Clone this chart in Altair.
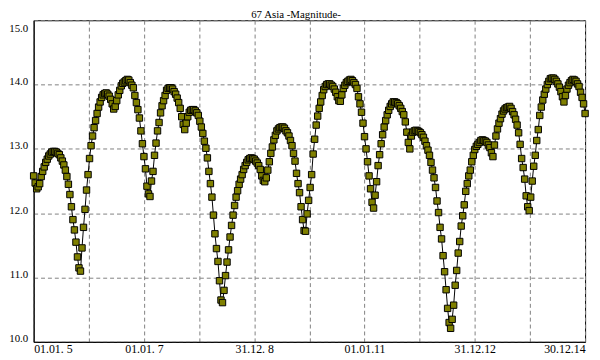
import altair as alt
import pandas as pd

title_text = "67 Asia -Magnitude-"
tick_labels = ["01.01. 5", "01.01. 7", "31.12. 8", "01.01.11", "31.12.12", "30.12.14"]
y_ticks = [10, 11, 12, 13, 14, 15]
day_step = 10          # sampling interval of the light curve (days)
year_days = 365        # vertical grid spacing
label_every = 730      # labelled grid line spacing

magnitudes = [
    12.58, 12.47, 12.38, 12.41, 12.46, 12.57, 12.65, 12.72, 12.79, 12.84,
    12.89, 12.92, 12.95, 12.96, 12.96, 12.95, 12.93, 12.91, 12.86, 12.81,
    12.75, 12.67, 12.57, 12.45, 12.29, 12.10, 11.90, 11.74, 11.55, 11.32,
    11.15, 11.10, 11.46, 11.78, 12.06, 12.36, 12.60, 12.85, 13.05, 13.20,
    13.33, 13.44, 13.55, 13.65, 13.73, 13.80, 13.84, 13.86, 13.87, 13.85,
    13.82, 13.77, 13.70, 13.62, 13.66, 13.75, 13.84, 13.91, 13.98, 14.02,
    14.04, 14.06, 14.08, 14.07, 14.03, 13.99, 13.95, 13.83, 13.72, 13.61,
    13.48, 13.28, 13.08, 12.88, 12.69, 12.42, 12.30, 12.26, 12.50, 12.65,
    12.90, 13.09, 13.28, 13.41, 13.56, 13.67, 13.75, 13.83, 13.91, 13.94,
    13.95, 13.95, 13.93, 13.89, 13.85, 13.79, 13.72, 13.63, 13.50, 13.38,
    13.30, 13.40, 13.50, 13.57, 13.60, 13.61, 13.61, 13.59, 13.56, 13.52,
    13.43, 13.34, 13.24, 13.12, 13.01, 12.86, 12.65, 12.46, 12.25, 11.97,
    11.68, 11.45, 11.25, 10.95, 10.65, 10.61, 10.80, 11.03, 11.24, 11.43,
    11.63, 11.81, 11.97, 12.12, 12.25, 12.35, 12.45, 12.53, 12.60, 12.68,
    12.74, 12.79, 12.83, 12.85, 12.86, 12.85, 12.84, 12.81, 12.78, 12.74,
    12.68, 12.58, 12.51, 12.49, 12.55, 12.67, 12.80, 12.93, 13.03, 13.14,
    13.21, 13.28, 13.31, 13.33, 13.34, 13.34, 13.32, 13.28, 13.25, 13.20,
    13.13, 13.05, 12.93, 12.81, 12.62, 12.46, 12.32, 12.10, 11.90, 11.73,
    11.72, 11.99, 12.20, 12.40, 12.60, 12.92, 13.15, 13.37, 13.51, 13.63,
    13.73, 13.83, 13.92, 13.97, 14.00, 14.01, 14.01, 13.99, 13.97, 13.93,
    13.88, 13.81, 13.75, 13.74, 13.84, 13.94, 13.99, 14.03, 14.05, 14.07,
    14.08, 14.06, 14.03, 14.00, 13.94, 13.81, 13.70, 13.57, 13.40, 13.19,
    13.00, 12.80, 12.58, 12.38, 12.17, 12.08, 12.28, 12.49, 12.74, 12.91,
    13.08, 13.22, 13.34, 13.44, 13.53, 13.60, 13.66, 13.70, 13.73, 13.73,
    13.72, 13.70, 13.67, 13.63, 13.58, 13.53, 13.42, 13.26, 13.10, 13.00,
    13.20, 13.26, 13.28, 13.29, 13.28, 13.27, 13.25, 13.22, 13.18, 13.12,
    13.05, 12.98, 12.90, 12.79, 12.67, 12.55, 12.40, 12.19, 12.01, 11.78,
    11.60, 11.34, 11.09, 10.81, 10.52, 10.30, 10.21, 10.35, 10.57, 10.88,
    11.11, 11.38, 11.56, 11.80, 11.96, 12.13, 12.34, 12.46, 12.58, 12.67,
    12.80, 12.90, 12.99, 13.04, 13.07, 13.10, 13.13, 13.14, 13.13, 13.12,
    13.10, 13.06, 13.02, 12.94, 12.88, 13.06, 13.20, 13.31, 13.40, 13.47,
    13.54, 13.59, 13.62, 13.64, 13.65, 13.66, 13.63, 13.58, 13.53, 13.46,
    13.37, 13.25, 13.07, 12.85, 12.71, 12.53, 12.27, 12.10, 12.04, 12.25,
    12.50, 12.73, 12.90, 13.13, 13.30, 13.52, 13.65, 13.76, 13.85, 13.93,
    14.00, 14.05, 14.09, 14.10, 14.10, 14.08, 14.05, 14.01, 13.96, 13.89,
    13.81, 13.73, 13.83, 13.93, 13.99, 14.03, 14.06, 14.08, 14.07, 14.05,
    14.01, 13.97, 13.88, 13.80, 13.70, 13.55,
]

days = [i * day_step for i in range(len(magnitudes))]
x_max = year_days * 10
grid_days = [year_days * k for k in range(11)]

df = pd.DataFrame({"day": days, "mag": magnitudes})

label_array = "[" + ",".join("'" + t + "'" for t in tick_labels) + "]"
label_expr = f"datum.value % {label_every} == 0 ? {label_array}[datum.value / {label_every}] : ''"

FONT = "Liberation Serif"

x_enc = alt.X(
    "day:Q",
    scale=alt.Scale(domain=[0, x_max], nice=False, zero=False),
    axis=alt.Axis(
        values=grid_days, labelExpr=label_expr, title=None, ticks=False,
        labelFlush=True, labelOverlap=False, grid=True, gridDash=[4, 3],
        gridColor="#808080", gridWidth=1, labelPadding=2, labelBaseline="top",
        labelFontSize=12, domainColor="black", domainWidth=1,
    ),
)
y_enc = alt.Y(
    "mag:Q",
    scale=alt.Scale(domain=[10, 15], nice=False, zero=False),
    axis=alt.Axis(
        values=y_ticks, format=".1f", title=None, ticks=False,
        grid=True, gridDash=[4, 3], gridColor="#808080", gridWidth=1,
        labelPadding=6, labelBaseline="alphabetic", labelFontSize=11,
        labelOffset={"condition": {"test": "datum.value == 15", "value": 11}, "value": 0},
        domainColor="black", domainWidth=1,
    ),
)

base = alt.Chart(df).encode(x=x_enc, y=y_enc, order="day:Q")

line = base.mark_line(color="black", strokeWidth=1)
points = base.mark_point(
    shape="square", filled=True, fill="#808000", stroke="black",
    strokeWidth=1, size=42, opacity=1,
)

title_mark = (
    alt.Chart(pd.DataFrame({"t": [title_text]}))
    .mark_text(font=FONT, fontSize=11, baseline="alphabetic", align="center", color="black")
    .encode(text="t:N", x=alt.value(266), y=alt.value(-2.5))
)

chart = (
    alt.layer(line, points, title_mark)
    .properties(
        width=559, height=326, autosize="none",
        padding={"left": 26, "top": 10, "right": 7, "bottom": 16},
        background="white",
    )
    .configure_view(stroke="black", strokeWidth=1)
    .configure_axis(labelFont=FONT, labelColor="black")
)

chart.save("out.html", embed_options={"renderer": "svg", "actions": False})
